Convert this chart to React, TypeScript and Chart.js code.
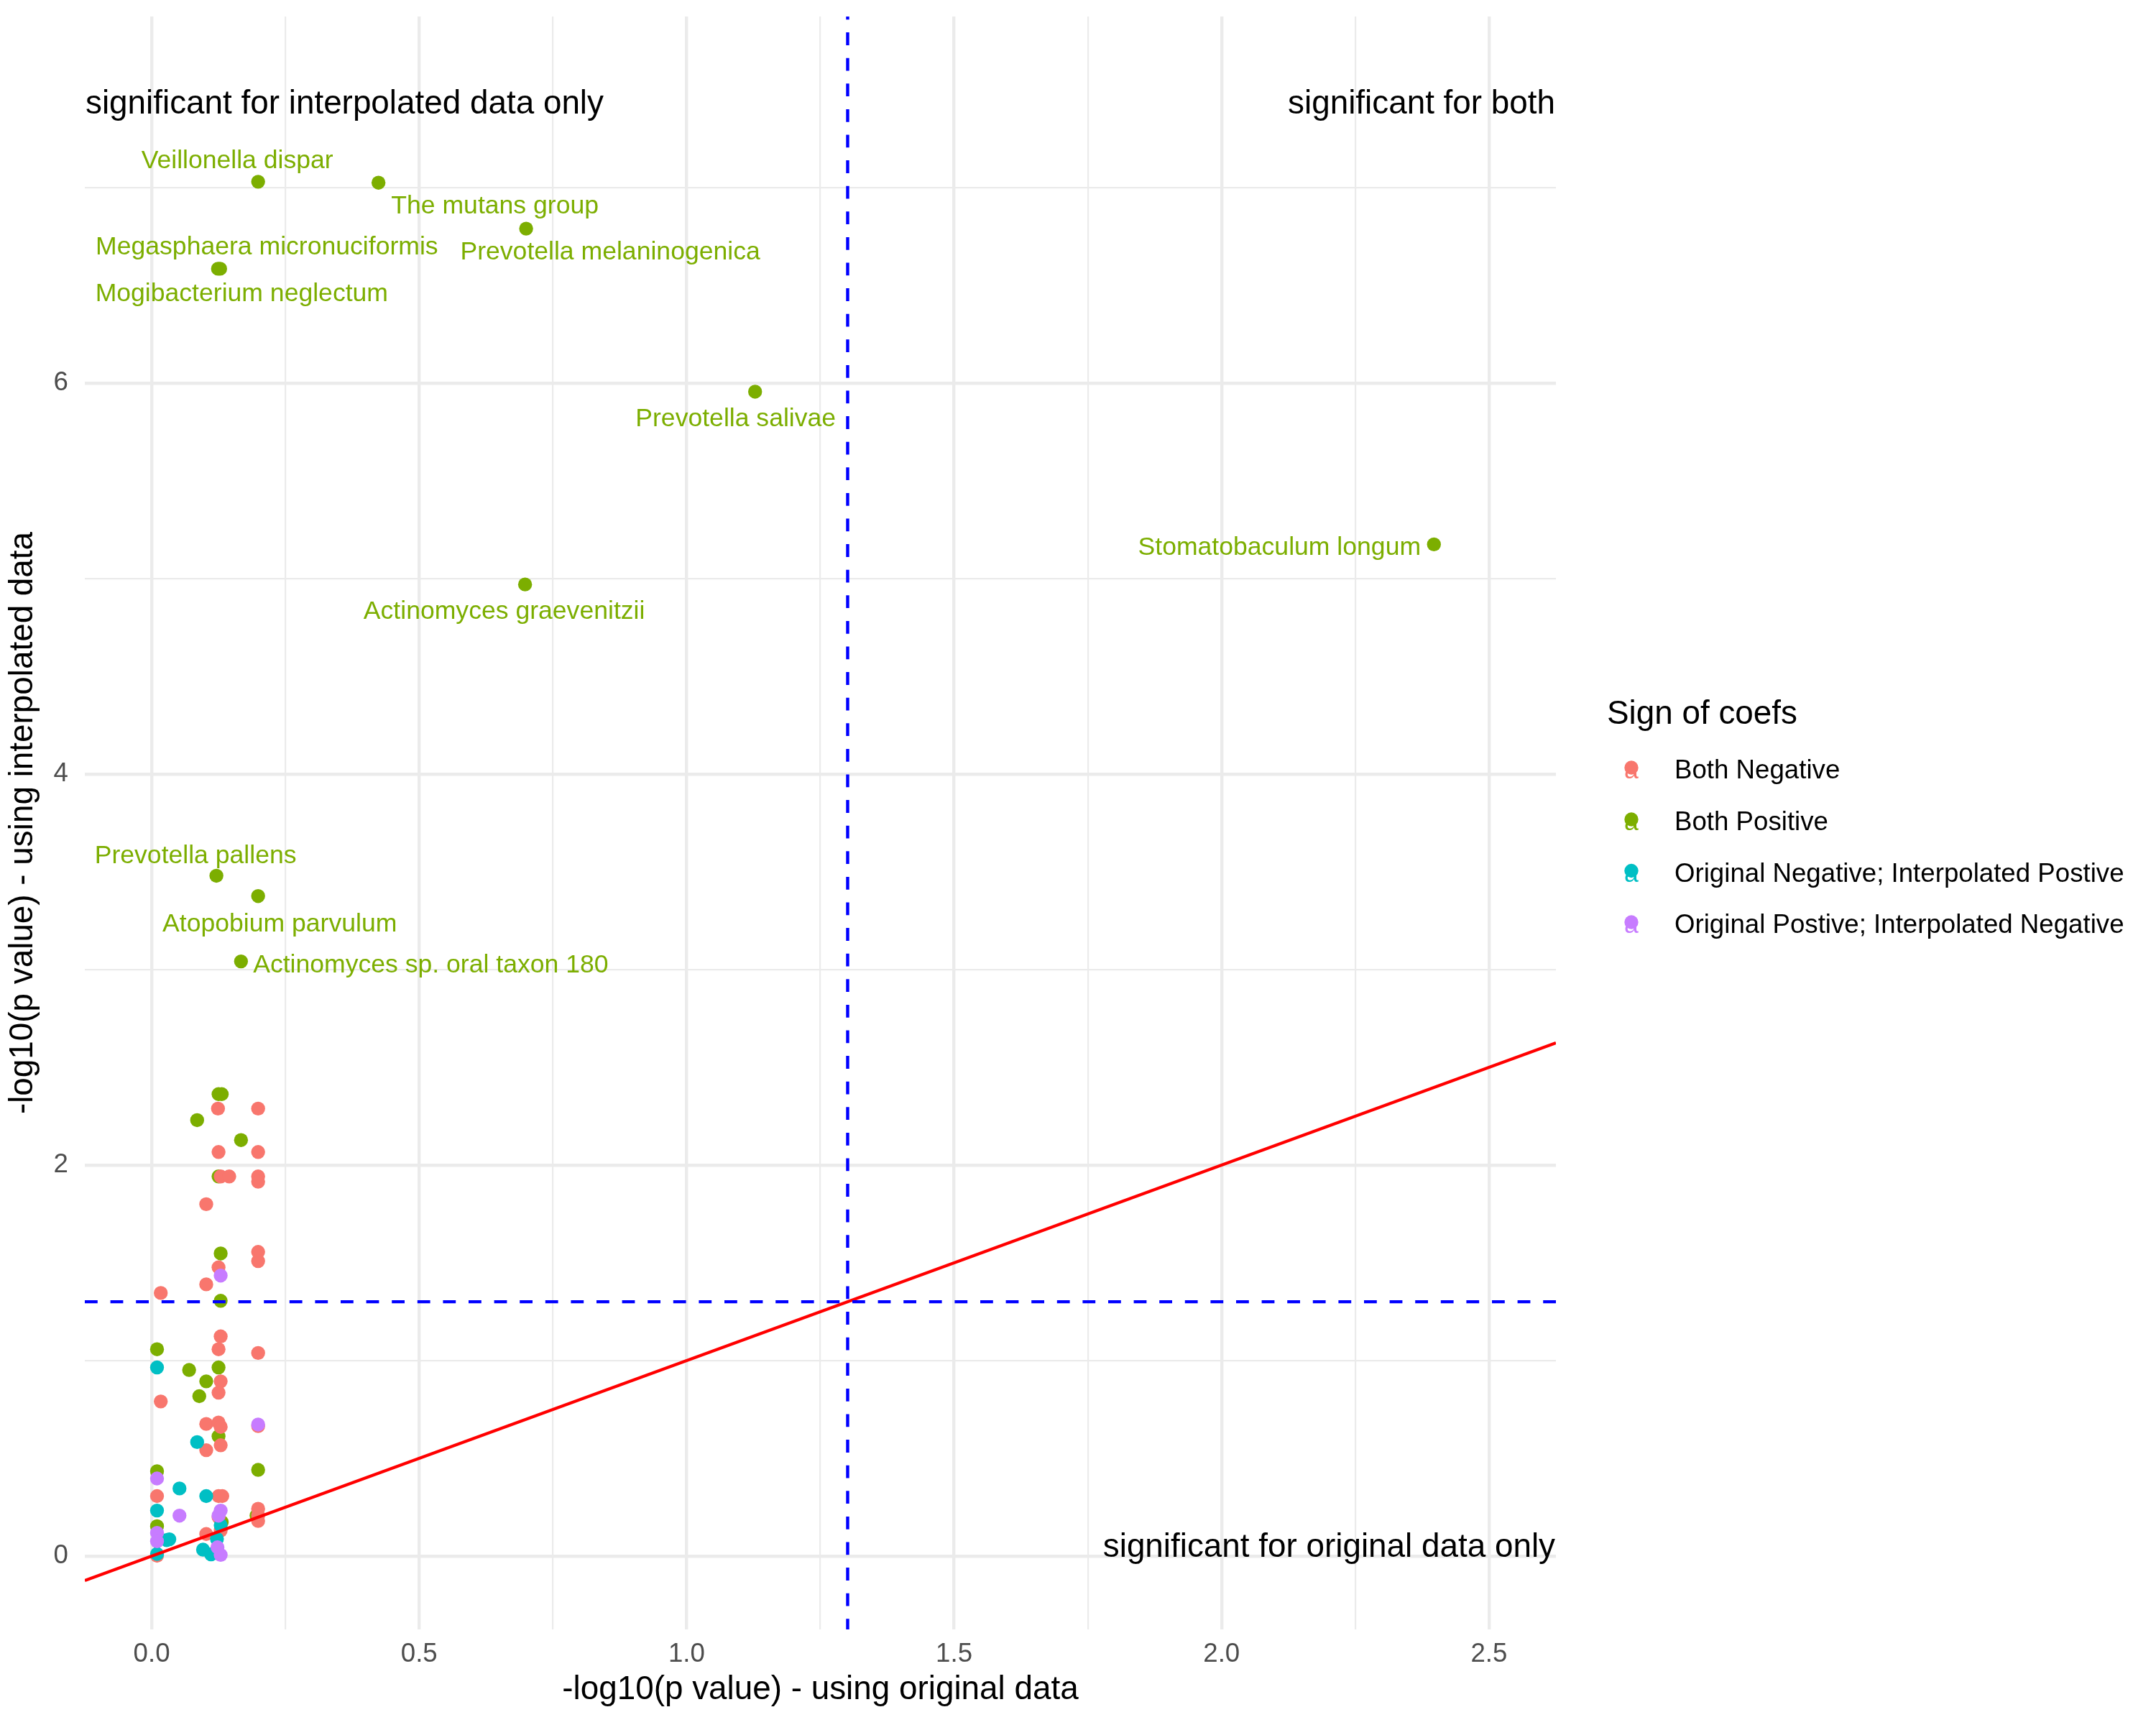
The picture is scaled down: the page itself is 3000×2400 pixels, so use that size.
import React, { useEffect, useRef } from "react";
import { Chart, registerables } from "chart.js";

Chart.register(...registerables);

// ---------------- data ----------------
const groupNames = [
  "Both Negative",
  "Both Positive",
  "Original Negative; Interpolated Postive",
  "Original Postive; Interpolated Negative",
];
const groupColors = ["#F8766D", "#7CAE00", "#00BFC4", "#C77CFF"];

const bothNegativeX = [0.124, 0.199, 0.125, 0.199, 0.129, 0.145, 0.199, 0.199, 0.102, 0.199, 0.199, 0.125, 0.102, 0.017, 0.129, 0.125, 0.199, 0.129, 0.125, 0.017, 0.102, 0.125, 0.129, 0.199, 0.129, 0.102, 0.010, 0.125, 0.132, 0.199, 0.199, 0.199, 0.125, 0.129, 0.102, 0.010];
const bothNegativeY = [2.289, 2.289, 2.067, 2.067, 1.942, 1.942, 1.942, 1.915, 1.800, 1.556, 1.509, 1.477, 1.390, 1.346, 1.124, 1.058, 1.039, 0.894, 0.836, 0.791, 0.676, 0.683, 0.661, 0.665, 0.567, 0.542, 0.307, 0.307, 0.307, 0.242, 0.207, 0.180, 0.199, 0.131, 0.113, 0.002];

const bothPositiveX = [0.125, 0.131, 0.085, 0.167, 0.125, 0.129, 0.129, 0.010, 0.070, 0.125, 0.102, 0.089, 0.125, 0.199, 0.010, 0.196, 0.131, 0.010];
const bothPositiveY = [2.363, 2.363, 2.230, 2.128, 1.942, 1.548, 1.306, 1.058, 0.952, 0.965, 0.894, 0.818, 0.613, 0.441, 0.434, 0.207, 0.174, 0.153];

// labelled species (all "Both Positive")
const labeledSpecies = [
  "Veillonella dispar",
  "The mutans group",
  "Prevotella melaninogenica",
  "Megasphaera micronuciformis",
  "Mogibacterium neglectum",
  "Prevotella salivae",
  "Stomatobaculum longum",
  "Actinomyces graevenitzii",
  "Prevotella pallens",
  "Atopobium parvulum",
  "Actinomyces sp. oral taxon 180",
];
const labeledX = [0.199, 0.424, 0.700, 0.124, 0.128, 1.128, 2.397, 0.698, 0.121, 0.199, 0.167];
const labeledY = [7.030, 7.025, 6.790, 6.585, 6.585, 5.956, 5.175, 4.970, 3.480, 3.376, 3.042];

const origNegInterpPosX = [0.010, 0.085, 0.052, 0.102, 0.010, 0.129, 0.028, 0.033, 0.122, 0.096, 0.111, 0.010];
const origNegInterpPosY = [0.965, 0.583, 0.346, 0.307, 0.233, 0.158, 0.082, 0.086, 0.088, 0.033, 0.009, 0.011];

const origPosInterpNegX = [0.129, 0.199, 0.010, 0.052, 0.129, 0.125, 0.010, 0.010, 0.123, 0.129];
const origPosInterpNegY = [1.435, 0.673, 0.397, 0.207, 0.233, 0.207, 0.119, 0.076, 0.045, 0.006];

// axes
const xMajorTicks = [0, 0.5, 1, 1.5, 2, 2.5];
const xTickLabels = ["0.0", "0.5", "1.0", "1.5", "2.0", "2.5"];
const xMinorTicks = [0.25, 0.75, 1.25, 1.75, 2.25];
const yMajorTicks = [0, 2, 4, 6];
const yTickLabels = ["0", "2", "4", "6"];
const yMinorTicks = [1, 3, 5, 7];
const xLimits = [-0.125, 2.625];
const yLimits = [-0.375, 7.875];

const significanceCutoff = 1.30103; // -log10(0.05)
const quadrantTexts = [
  "significant for interpolated data only",
  "significant for both",
  "significant for original data only",
];
const quadrantTextY = [7.5, 7.5, 0];

// ---------------- layout / style ----------------
// label placement (ggrepel-like) in pixels: [dx to text centre, dy to baseline]
const labelOffsets: [number, number][] = [
  [-29, -19],
  [162, 43],
  [117, 43],
  [68, -20],
  [30, 45],
  [-27, 48],
  [-215, 15],
  [-29, 48],
  [-29, -17],
  [30, 49],
  [264, 15],
];

const FONT = "'Liberation Sans', Arial, Helvetica, sans-serif";
const BASE = 45.83;
const SMALL = 36.67;
const LABEL = 35.6;
const POINT_R = 9.7;

const makeData = (xs: number[], ys: number[]) => xs.map((x, i) => ({ x, y: ys[i] }));

const overlayPlugin = {
  id: "overlay",
  afterDatasetsDraw(chart: any) {
    const { ctx, chartArea: ca } = chart;
    const xs = chart.scales.x;
    const ys = chart.scales.y;
    ctx.save();
    ctx.beginPath();
    ctx.rect(ca.left, ca.top, ca.right - ca.left, ca.bottom - ca.top);
    ctx.clip();
    ctx.lineCap = "butt";
    // identity line
    ctx.strokeStyle = "#FF0000";
    ctx.lineWidth = 4.4;
    ctx.setLineDash([]);
    ctx.beginPath();
    ctx.moveTo(xs.getPixelForValue(xs.min), ys.getPixelForValue(xs.min));
    ctx.lineTo(xs.getPixelForValue(xs.max), ys.getPixelForValue(xs.max));
    ctx.stroke();
    // cut-off lines
    ctx.strokeStyle = "#0000FF";
    ctx.setLineDash([17.8, 17.8]);
    const hy = ys.getPixelForValue(significanceCutoff);
    ctx.lineDashOffset = 0;
    ctx.beginPath();
    ctx.moveTo(ca.left, hy);
    ctx.lineTo(ca.right, hy);
    ctx.stroke();
    const vx = xs.getPixelForValue(significanceCutoff);
    ctx.lineDashOffset = 13.5;
    ctx.beginPath();
    ctx.moveTo(vx, ca.top);
    ctx.lineTo(vx, ca.bottom);
    ctx.stroke();
    ctx.restore();

    // species labels
    ctx.save();
    ctx.font = `${LABEL}px ${FONT}`;
    ctx.fillStyle = groupColors[1];
    ctx.textAlign = "center";
    ctx.textBaseline = "alphabetic";
    labeledSpecies.forEach((name, i) => {
      const px = xs.getPixelForValue(labeledX[i]);
      const py = ys.getPixelForValue(labeledY[i]);
      ctx.fillText(name, px + labelOffsets[i][0], py + labelOffsets[i][1]);
    });
    // quadrant annotations
    ctx.font = `${BASE}px ${FONT}`;
    ctx.fillStyle = "#000000";
    ctx.textAlign = "left";
    ctx.fillText(quadrantTexts[0], ca.left + 1, ys.getPixelForValue(quadrantTextY[0]) + 33);
    ctx.textAlign = "right";
    ctx.fillText(quadrantTexts[1], ca.right - 1, ys.getPixelForValue(quadrantTextY[1]) + 33);
    ctx.fillText(quadrantTexts[2], ca.right - 1, ys.getPixelForValue(quadrantTextY[2]) + 1);
    ctx.restore();
  },
  afterDraw(chart: any) {
    const { ctx } = chart;
    ctx.save();
    ctx.textBaseline = "alphabetic";
    ctx.textAlign = "left";
    ctx.fillStyle = "#000000";
    ctx.font = `${BASE}px ${FONT}`;
    ctx.fillText("Sign of coefs", 2236, 1007);
    const baselines = [1083, 1155, 1226.5, 1298];
    groupNames.forEach((name, i) => {
      const b = baselines[i];
      const cy = b - 13;
      ctx.fillStyle = groupColors[i];
      ctx.font = `${LABEL}px ${FONT}`;
      ctx.textAlign = "center";
      ctx.fillText("a", 2270, b);
      ctx.beginPath();
      ctx.arc(2270, cy - 2, POINT_R, 0, Math.PI * 2);
      ctx.fill();
      ctx.fillStyle = "#000000";
      ctx.textAlign = "left";
      ctx.font = `${SMALL}px ${FONT}`;
      ctx.fillText(name, 2330, b);
    });
    ctx.restore();
  },
};

export default function App() {
  const ref = useRef<HTMLCanvasElement | null>(null);
  useEffect(() => {
    if (!ref.current) return;
    Chart.defaults.font.family = FONT;
    const xAll = [...xMajorTicks, ...xMinorTicks].sort((a, b) => a - b);
    const yAll = [...yMajorTicks, ...yMinorTicks].sort((a, b) => a - b);
    const chart = new Chart(ref.current, {
      type: "scatter",
      data: {
        datasets: [
          { label: groupNames[0], data: makeData(bothNegativeX, bothNegativeY), backgroundColor: groupColors[0], order: 2 },
          { label: groupNames[1], data: [...makeData(bothPositiveX, bothPositiveY), ...makeData(labeledX, labeledY)], backgroundColor: groupColors[1], order: 3 },
          { label: groupNames[2], data: makeData(origNegInterpPosX, origNegInterpPosY), backgroundColor: groupColors[2], order: 1 },
          { label: groupNames[3], data: makeData(origPosInterpNegX, origPosInterpNegY), backgroundColor: groupColors[3], order: 0 },
        ].map((d) => ({ ...d, pointRadius: POINT_R, pointHoverRadius: POINT_R, borderWidth: 0, pointBorderWidth: 0 })),
      },
      options: {
        responsive: false,
        animation: false,
        devicePixelRatio: 1,
        events: [],
        layout: { padding: { top: 23, right: 835, bottom: 0, left: 0 } },
        plugins: { legend: { display: false }, tooltip: { enabled: false } },
        scales: {
          x: {
            type: "linear",
            min: xLimits[0],
            max: xLimits[1],
            afterBuildTicks: (s: any) => {
              s.ticks = xAll.map((v) => ({ value: v }));
            },
            afterFit: (s: any) => {
              s.height = 133;
              s.paddingLeft = 0;
              s.paddingRight = 0;
              s.paddingTop = 0;
              s.paddingBottom = 0;
            },
            border: { display: false },
            grid: {
              color: "#EBEBEB",
              drawTicks: false,
              lineWidth: (c: any) => (c.tick && xMajorTicks.includes(c.tick.value) ? 4.4 : 2.2),
            },
            ticks: {
              autoSkip: false,
              maxRotation: 0,
              padding: 13,
              color: "#4D4D4D",
              font: { size: SMALL },
              callback: (v: any) => {
                const i = xMajorTicks.indexOf(Number(v));
                return i >= 0 ? xTickLabels[i] : "";
              },
            },
            title: {
              display: true,
              text: "-log10(p value) - using original data",
              color: "#000000",
              font: { size: BASE },
              padding: { top: 0, bottom: 21 },
            },
          },
          y: {
            type: "linear",
            min: yLimits[0],
            max: yLimits[1],
            afterBuildTicks: (s: any) => {
              s.ticks = yAll.map((v) => ({ value: v }));
            },
            afterFit: (s: any) => {
              s.width = 118;
              s.paddingLeft = 0;
              s.paddingRight = 0;
              s.paddingTop = 0;
              s.paddingBottom = 0;
            },
            border: { display: false },
            grid: {
              color: "#EBEBEB",
              drawTicks: false,
              lineWidth: (c: any) => (c.tick && yMajorTicks.includes(c.tick.value) ? 4.4 : 2.2),
            },
            ticks: {
              autoSkip: false,
              padding: 23,
              color: "#4D4D4D",
              font: { size: SMALL },
              callback: (v: any) => {
                const i = yMajorTicks.indexOf(Number(v));
                return i >= 0 ? yTickLabels[i] : "";
              },
            },
            title: {
              display: true,
              text: "-log10(p value) - using interpolated data",
              color: "#000000",
              font: { size: BASE },
              padding: { top: 5, bottom: 0 },
            },
          },
        },
      },
      plugins: [overlayPlugin],
    } as any);
    return () => chart.destroy();
  }, []);

  return (
    <div style={{ position: "absolute", left: 0, top: 0, width: 3000, height: 2400, background: "#FFFFFF" }}>
      <canvas ref={ref} width={3000} height={2400} style={{ width: 3000, height: 2400, display: "block" }} />
    </div>
  );
}
